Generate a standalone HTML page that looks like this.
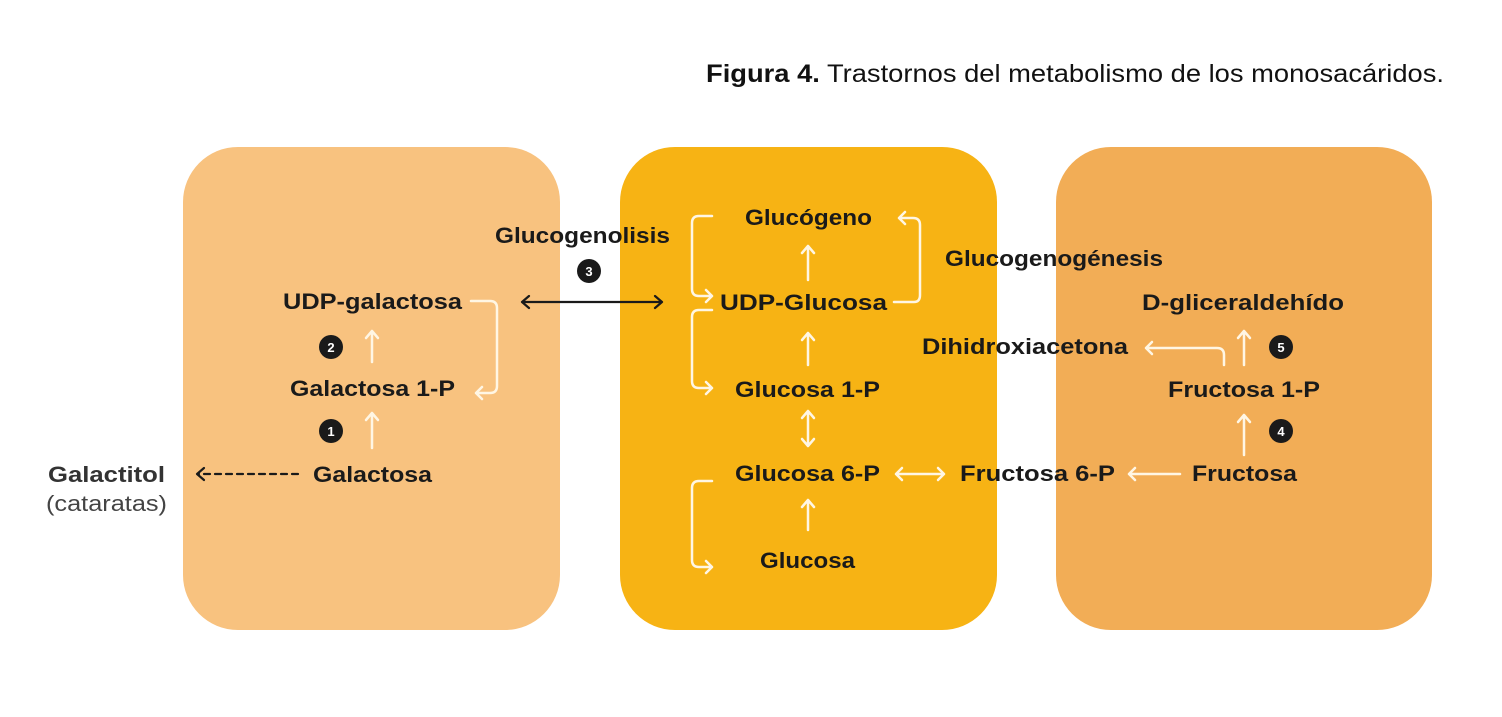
<!DOCTYPE html>
<html><head><meta charset="utf-8"><style>
html,body{margin:0;padding:0;background:#fff;width:1502px;height:717px;overflow:hidden}
svg{display:block}
.t{font-family:"Liberation Sans",sans-serif;font-weight:bold;font-size:22px;fill:#1a1a1a}
.w{stroke:#fff6e4;stroke-width:2.5;fill:none;stroke-linecap:round;stroke-linejoin:round}
.k{stroke:#1a1a1a;stroke-width:2.2;fill:none;stroke-linecap:round;stroke-linejoin:round}
.n{font-family:"Liberation Sans",sans-serif;font-weight:bold;font-size:13px;fill:#fff}
</style></head><body>
<svg width="1502" height="717" viewBox="0 0 1502 717">
<text x="706" y="82" font-family="Liberation Sans, sans-serif" font-size="25" fill="#111" textLength="738" lengthAdjust="spacingAndGlyphs"><tspan font-weight="bold">Figura 4.</tspan> Trastornos del metabolismo de los monosacáridos.</text>

<rect x="183" y="147" width="377" height="483" rx="55" fill="#f8c27f"/>
<rect x="620" y="147" width="377" height="483" rx="55" fill="#f7b314"/>
<rect x="1056" y="147" width="376" height="483" rx="55" fill="#f2ad56"/>

<g lengthAdjust="spacingAndGlyphs">
<text class="t" x="283" y="309" textLength="179" lengthAdjust="spacingAndGlyphs">UDP-galactosa</text>
<text class="t" x="290" y="396" textLength="165" lengthAdjust="spacingAndGlyphs">Galactosa 1-P</text>
<text class="t" x="313" y="482" textLength="119" lengthAdjust="spacingAndGlyphs">Galactosa</text>
<text class="t" x="48" y="482" textLength="117" lengthAdjust="spacingAndGlyphs" style="fill:#333">Galactitol</text>
<text x="46" y="511" font-family="Liberation Sans, sans-serif" font-size="22" fill="#444" textLength="121" lengthAdjust="spacingAndGlyphs">(cataratas)</text>
</g>
<path class="k" d="M298 474 H198" stroke-dasharray="6 5" stroke-width="2"/>
<path class="k" d="M204 468 L197 474 L204 480" stroke-width="2"/>
<circle cx="331" cy="347" r="12" fill="#1a1a1a"/><text class="n" x="331" y="352" text-anchor="middle">2</text>
<circle cx="331" cy="431" r="12" fill="#1a1a1a"/><text class="n" x="331" y="436" text-anchor="middle">1</text>
<path class="w" d="M372 362 V331 M366 338 L372 331 L378 338"/>
<path class="w" d="M372 448 V413 M366 420 L372 413 L378 420"/>
<path class="w" d="M471 301 H490 Q497 301 497 308 V386 Q497 393 490 393 H476 M482 387 L476 393 L482 399"/>

<text class="t" x="495" y="243" textLength="175" lengthAdjust="spacingAndGlyphs">Glucogenolisis</text>
<circle cx="589" cy="271" r="12" fill="#1a1a1a"/><text class="n" x="589" y="276" text-anchor="middle">3</text>
<path class="k" d="M522 302 H662 M529 296 L522 302 L529 308 M655 296 L662 302 L655 308"/>

<text class="t" x="745" y="225" textLength="127" lengthAdjust="spacingAndGlyphs">Glucógeno</text>
<text class="t" x="720" y="310" textLength="167" lengthAdjust="spacingAndGlyphs">UDP-Glucosa</text>
<text class="t" x="735" y="397" textLength="145" lengthAdjust="spacingAndGlyphs">Glucosa 1-P</text>
<text class="t" x="735" y="481" textLength="145" lengthAdjust="spacingAndGlyphs">Glucosa 6-P</text>
<text class="t" x="760" y="568" textLength="95" lengthAdjust="spacingAndGlyphs">Glucosa</text>
<path class="w" d="M808 280 V246 M802 253 L808 246 L814 253"/>
<path class="w" d="M808 365 V333 M802 340 L808 333 L814 340"/>
<path class="w" d="M808 411 V446 M802 418 L808 411 L814 418 M802 439 L808 446 L814 439"/>
<path class="w" d="M808 530 V500 M802 507 L808 500 L814 507"/>
<path class="w" d="M712 216 H699 Q692 216 692 223 V289 Q692 296 699 296 H712 M706 290 L712 296 L706 302"/>
<path class="w" d="M712 310 H699 Q692 310 692 317 V381 Q692 388 699 388 H712 M706 382 L712 388 L706 394"/>
<path class="w" d="M712 481 H699 Q692 481 692 488 V560 Q692 567 699 567 H712 M706 561 L712 567 L706 573"/>
<path class="w" d="M894 302 H914 Q920 302 920 295 V225 Q920 218 913 218 H899 M905 212 L899 218 L905 224"/>
<text class="t" x="945" y="266" textLength="218" lengthAdjust="spacingAndGlyphs">Glucogenogénesis</text>
<path class="w" d="M896 474 H944 M902 468 L896 474 L902 480 M938 468 L944 474 L938 480"/>
<text class="t" x="960" y="481" textLength="155" lengthAdjust="spacingAndGlyphs">Fructosa 6-P</text>

<path class="w" d="M1180 474 H1129 M1135 468 L1129 474 L1135 480"/>
<text class="t" x="1192" y="481" textLength="105" lengthAdjust="spacingAndGlyphs">Fructosa</text>
<path class="w" d="M1244 455 V415 M1238 422 L1244 415 L1250 422"/>
<circle cx="1281" cy="431" r="12" fill="#1a1a1a"/><text class="n" x="1281" y="436" text-anchor="middle">4</text>
<text class="t" x="1168" y="397" textLength="152" lengthAdjust="spacingAndGlyphs">Fructosa 1-P</text>
<path class="w" d="M1244 365 V331 M1238 338 L1244 331 L1250 338"/>
<circle cx="1281" cy="347" r="12" fill="#1a1a1a"/><text class="n" x="1281" y="352" text-anchor="middle">5</text>
<path class="w" d="M1224 365 V355 Q1224 348 1217 348 H1146 M1152 342 L1146 348 L1152 354"/>
<text class="t" x="922" y="354" textLength="206" lengthAdjust="spacingAndGlyphs">Dihidroxiacetona</text>
<text class="t" x="1142" y="310" textLength="202" lengthAdjust="spacingAndGlyphs">D-gliceraldehído</text>
</svg>
</body></html>
